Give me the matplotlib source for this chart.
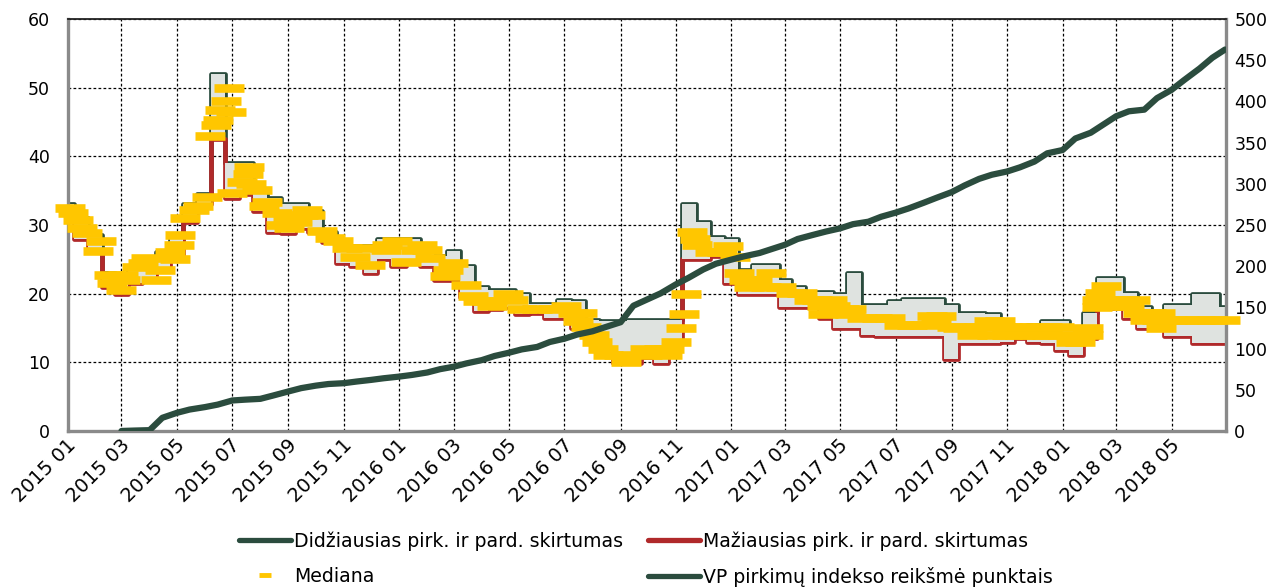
import matplotlib
matplotlib.use("Agg")
import matplotlib.pyplot as plt
import matplotlib.dates as mdates
import matplotlib.transforms as mtrans
from matplotlib.lines import Line2D
import numpy as np
import pandas as pd

# semi-monthly observation grid (1st and 15th) for spreads and the index
DATES = list(pd.date_range("2015-01-01", "2018-06-15", freq="SMS")) + [pd.Timestamp("2018-06-29")]

MAX_SPREAD = [
    33, 31, 28.5, 23, 22.5, 23.5, 25, 26, 28, 33, 34.5, 52,
    39, 39, 35, 34, 33, 33, 32, 29, 27.5, 27, 27, 28,
    28, 28, 27, 25.5, 26.2, 24, 21, 20.5, 20.5, 20, 18.5, 18.5,
    19.1, 19, 16.2, 16, 16, 16.2, 16.2, 16.2, 16.2, 33, 30.5, 28.3,
    28, 23.5, 24.2, 24.2, 22, 21, 20.2, 20.2, 20, 23, 18.3, 18.3,
    19, 19.2, 19.2, 19.2, 18.3, 17.2, 17.2, 17, 15.5, 15.2, 15.5, 16,
    16, 15, 17.2, 22.3, 22.3, 20.1, 18, 17.2, 18.3, 18.3, 20, 20, 18,
]
MIN_SPREAD = [
    31.5, 28, 26, 21, 20, 21.5, 22, 23.5, 25, 30.5, 33, 42.5,
    34, 34.5, 32, 29, 28.8, 29.5, 29, 27.5, 24.5, 24, 23, 25,
    24, 24.5, 24, 22, 22, 19.5, 17.5, 17.8, 18, 17, 17.2, 16.5,
    16.5, 15, 12.8, 11, 9.9, 9.9, 10.8, 9.9, 12.8, 25, 25, 25.5,
    21.5, 20, 20, 20, 18, 18, 18, 16.5, 15, 15, 14, 13.8,
    13.8, 13.8, 13.8, 13.8, 10.5, 12.8, 12.8, 12.8, 13, 13.5, 13, 12.8,
    11.8, 11, 13.5, 17.9, 17.9, 16.4, 15, 14.8, 13.8, 13.8, 12.8, 12.8, 12.8,
]
VP_INDEX = [
    np.nan, np.nan, np.nan, np.nan, 0, 0.5, 1, 16, 22, 26, 29, 32,
    37, 38, 39, 43, 48, 52, 55, 57, 58, 60, 62, 64,
    66, 68, 71, 75, 78, 82, 86, 91, 95, 99, 102, 108,
    112, 117, 121, 126, 132, 152, 160, 167, 178, 186, 196, 203,
    208, 212, 216, 221, 226, 233, 238, 242, 246, 251, 254, 260,
    265, 270, 277, 283, 290, 298, 306, 311, 315, 320, 327, 337,
    341, 355, 362, 372, 382, 388, 390, 404, 414, 426, 440, 453, 463,
]

# median observations (date, value) as read from the dashes
MED_DATES = [
    "2015-01-03", "2015-01-07", "2015-01-12", "2015-01-16", "2015-01-22", "2015-02-03",
    "2015-02-06", "2015-02-15", "2015-02-18", "2015-03-01", "2015-03-03", "2015-03-05",
    "2015-03-18", "2015-03-25", "2015-03-28", "2015-04-08", "2015-04-12", "2015-04-24",
    "2015-04-29", "2015-05-03", "2015-05-04", "2015-05-10", "2015-05-20", "2015-05-24",
    "2015-06-03", "2015-06-06", "2015-06-13", "2015-06-15", "2015-06-18", "2015-06-24",
    "2015-06-28", "2015-06-30", "2015-07-01", "2015-07-12", "2015-07-18", "2015-07-20",
    "2015-07-22", "2015-07-28", "2015-08-05", "2015-08-08", "2015-08-19", "2015-08-24",
    "2015-08-31", "2015-09-02", "2015-09-10", "2015-09-17", "2015-09-21", "2015-09-25",
    "2015-10-08", "2015-10-17", "2015-10-26", "2015-11-05", "2015-11-13", "2015-11-20",
    "2015-11-30", "2015-12-18", "2015-12-19", "2015-12-30",
    "2016-01-08", "2016-01-20", "2016-01-26", "2016-02-01", "2016-02-04", "2016-02-20",
    "2016-02-24", "2016-02-29", "2016-03-15", "2016-03-22", "2016-03-28", "2016-04-08",
    "2016-04-12", "2016-04-30", "2016-05-05", "2016-05-15", "2016-06-01", "2016-06-18",
    "2016-07-03", "2016-07-10", "2016-07-16", "2016-07-20", "2016-07-25", "2016-08-03",
    "2016-08-06", "2016-08-13", "2016-08-18", "2016-08-30", "2016-09-07", "2016-09-28",
    "2016-09-30", "2016-10-13", "2016-10-22", "2016-10-24", "2016-11-01", "2016-11-06",
    "2016-11-10", "2016-11-12", "2016-11-19", "2016-11-22", "2016-11-24", "2016-12-08",
    "2016-12-22", "2016-12-28",
    "2017-01-05", "2017-01-09", "2017-01-15", "2017-01-20", "2017-01-29", "2017-02-08",
    "2017-02-14", "2017-02-25", "2017-03-08", "2017-03-20", "2017-03-27", "2017-04-05",
    "2017-04-11", "2017-04-12", "2017-04-22", "2017-04-25", "2017-05-05", "2017-05-12",
    "2017-05-13", "2017-05-25", "2017-06-10", "2017-06-25", "2017-07-05", "2017-07-19",
    "2017-08-02", "2017-08-10", "2017-08-15", "2017-08-20", "2017-09-01", "2017-09-08",
    "2017-09-15", "2017-09-23", "2017-10-01", "2017-10-12", "2017-10-15", "2017-10-24",
    "2017-11-01", "2017-11-01", "2017-11-15", "2017-11-15", "2017-12-01", "2017-12-01",
    "2017-12-15", "2017-12-15", "2017-12-28",
    "2018-01-01", "2018-01-10", "2018-01-20", "2018-01-29", "2018-01-29", "2018-02-08",
    "2018-02-08", "2018-02-11", "2018-02-18", "2018-02-22", "2018-03-03", "2018-03-08",
    "2018-03-15", "2018-03-22", "2018-03-25", "2018-04-02", "2018-04-08", "2018-04-15",
    "2018-04-18", "2018-04-19", "2018-05-01", "2018-05-15", "2018-06-01", "2018-06-15",
    "2018-06-29",
]
MED_VALUES = [
    32.5, 31.7, 30.8, 29.6, 28.8, 26.2,
    27.6, 22.7, 21.5, 20.5, 22.7, 22.0,
    23.9, 24.5, 25.2, 22.0, 23.5, 26.1,
    25.0, 27.1, 28.5, 31.0, 32.2, 32.7,
    34.1, 42.9, 44.6, 45.3, 46.8, 48.0,
    50.0, 46.5, 34.6, 36.3, 37.5, 38.5,
    35.9, 35.1, 32.7, 33.4, 31.7, 30.0,
    30.8, 29.6, 30.5, 31.5, 32.2, 31.5,
    29.1, 28.1, 27.6, 26.7, 25.4, 26.7,
    24.2, 26.4, 27.1, 27.6,
    24.6, 26.4, 27.1, 26.4, 25.2, 22.6,
    23.5, 24.5, 21.3, 19.6, 18.9, 18.9,
    18.2, 20.0, 19.1, 17.7, 17.7, 17.7,
    18.2, 17.2, 16.0, 17.2, 15.2, 14.0,
    13.0, 12.0, 11.1, 11.1, 10.1, 12.0,
    11.1, 12.0, 11.1, 12.0, 13.0, 15.0,
    17.0, 20.0, 29.0, 28.0, 27.1, 26.1,
    26.1, 27.0,
    25.4, 23.0, 22.0, 21.0, 22.0, 21.0,
    23.0, 21.0, 20.1, 20.1, 19.1, 19.1,
    18.2, 17.1, 19.1, 18.2, 17.7, 17.1,
    17.7, 16.5, 16.5, 16.5, 15.5, 15.5,
    15.5, 16.7, 15.9, 16.7, 15.2, 15.0,
    15.2, 14.0, 15.2, 16.0, 14.0, 16.0,
    15.2, 14.0, 15.2, 14.0, 15.2, 14.0,
    15.2, 14.0, 15.2,
    14.0, 13.0, 13.0, 15.0, 14.0, 18.0,
    19.1, 20.1, 21.1, 19.1, 18.2, 19.1,
    18.2, 19.1, 17.2, 16.2, 17.2, 16.2,
    17.2, 15.0, 16.2, 16.2, 16.2, 16.2,
    16.2,
]

LABELS = [
    "Didžiausias pirk. ir pard. skirtumas",
    "Mažiausias pirk. ir pard. skirtumas",
    "Mediana",
    "VP pirkimų indekso reikšmė punktais",
]

GREEN = "#2b4c3e"
RED = "#b0292a"
YELLOW = "#ffc600"
GRAY = "#dfe3e0"
FS = 12.5

plt.rcParams["font.family"] = ["DejaVu Sans"]

fig = plt.figure(figsize=(12.82, 5.87), dpi=100)
ax = fig.add_axes([0.053, 0.2658, 0.9033, 0.7018])
ax2 = ax.twinx()

dates = pd.to_datetime(DATES)
med_dates = pd.to_datetime(MED_DATES)

ax.plot(dates, MAX_SPREAD, color=GREEN, lw=3.4, drawstyle="steps-mid",
        solid_joinstyle="round", solid_capstyle="round", zorder=2)
ax.plot(dates, MIN_SPREAD, color=RED, lw=3.4, drawstyle="steps-mid",
        solid_joinstyle="round", solid_capstyle="round", zorder=2.1)
ax.fill_between(dates, MIN_SPREAD, MAX_SPREAD, step="mid", color=GRAY,
                lw=0, zorder=2.5)
ax.plot(med_dates, MED_VALUES, ls="none", marker="_", ms=21, mew=6.2,
        color=YELLOW, zorder=3, clip_on=False)

ax2.plot(dates, VP_INDEX, color=GREEN, lw=4.5, solid_capstyle="round",
         solid_joinstyle="round", zorder=4)

ax.set_xlim(pd.Timestamp("2015-01-01"), pd.Timestamp("2018-06-30"))
ax.set_ylim(0, 60)
ax2.set_ylim(0, 500)
ax.set_yticks(range(0, 61, 10))
ax2.set_yticks(range(0, 501, 50))

ax.xaxis.set_major_locator(mdates.MonthLocator(bymonth=[1, 3, 5, 7, 9, 11]))
ax.xaxis.set_major_formatter(mdates.DateFormatter("%Y %m"))
ax.tick_params(axis="x", length=0, pad=8, labelsize=14)
ax.tick_params(axis="y", length=0, pad=13, labelsize=FS)
ax2.tick_params(axis="y", length=0, pad=6, labelsize=FS)
shift = mtrans.ScaledTranslation(5 / 100, 0, fig.dpi_scale_trans)
for lab in ax.get_xticklabels():
    lab.set_rotation(45)
    lab.set_ha("right")
    lab.set_va("center")
    lab.set_rotation_mode("anchor")
    lab.set_transform(lab.get_transform() + shift)

ax.grid(True, color="black", ls=(0, (2.2, 1.8)), lw=0.9)
ax.set_axisbelow(True)

for side in ["left", "bottom", "right"]:
    ax.spines[side].set_color("#8a8a8a")
    ax.spines[side].set_linewidth(2.4)
ax.spines["top"].set_color("#222222")
ax.spines["top"].set_linewidth(1.3)
for sp in ax2.spines.values():
    sp.set_visible(False)

h_max = Line2D([], [], color=GREEN, lw=3.8, solid_capstyle="round")
h_min = Line2D([], [], color=RED, lw=3.8, solid_capstyle="round")
h_med = Line2D([], [], ls="none", marker="_", ms=8, mew=3.5, color=YELLOW)
h_vp = Line2D([], [], color=GREEN, lw=3.8, solid_capstyle="round")
# legend columns are filled top to bottom, so order is max, median | min, index
fig.legend([h_max, h_med, h_min, h_vp],
           [LABELS[0], LABELS[2], LABELS[1], LABELS[3]],
           loc="upper left", bbox_to_anchor=(0.1865, 0.095),
           ncol=2, frameon=False, fontsize=13.6, handlelength=2.75,
           handletextpad=0.15, columnspacing=1.35, labelspacing=0.85,
           borderpad=0, borderaxespad=0)

fig.savefig("out.png", dpi=100)
